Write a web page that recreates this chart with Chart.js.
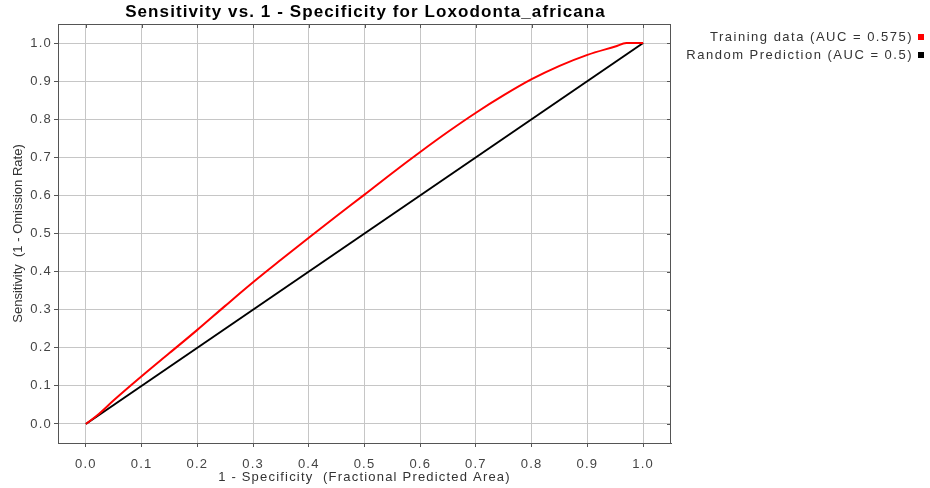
<!DOCTYPE html>
<html>
<head>
<meta charset="utf-8">
<title>Sensitivity vs. 1 - Specificity</title>
<script src="https://cdn.jsdelivr.net/npm/chart.js@4.4.1/dist/chart.umd.min.js"></script>
<style>
  body { margin: 0; background: #fff; }
  canvas { display: block; }
</style>
</head>
<body>
<canvas id="rocChart" width="930" height="488"></canvas>
<script>
// values
const fpr = [0, 0.02, 0.05, 0.1, 0.15, 0.2, 0.25, 0.3, 0.35, 0.4, 0.45, 0.5, 0.55, 0.6, 0.65, 0.7, 0.75, 0.8, 0.85, 0.9, 0.95, 0.97, 1.0];
const sensitivity = [0, 0.022, 0.062, 0.125, 0.186, 0.247, 0.31, 0.372, 0.431, 0.489, 0.546, 0.602, 0.659, 0.714, 0.767, 0.817, 0.863, 0.905, 0.94, 0.969, 0.991, 1.0, 1.0];
const randomX = [0, 1];
const randomY = [0, 1];
const tickValues = [0, 0.1, 0.2, 0.3, 0.4, 0.5, 0.6, 0.7, 0.8, 0.9, 1.0];

const chartTitle = "Sensitivity vs. 1 - Specificity for Loxodonta_africana";
const xTitle = "1 - Specificity  (Fractional Predicted Area)";
const yTitle = "Sensitivity  (1 - Omission Rate)";
const trainLabel = "Training data (AUC = 0.575)";
const randomLabel = "Random Prediction (AUC = 0.5)";

const FONT = "'Liberation Sans', Arial, sans-serif";
const SPACING = "1.2px"; // the java-drawn labels are wider than plain Arial

function toPoints(xs, ys) {
  return xs.map((x, i) => ({ x: x, y: ys[i] }));
}

// wide letter spacing for the horizontal labels that Chart.js draws
const spacingPlugin = {
  id: "spacing",
  beforeUpdate(chart) { chart.ctx.letterSpacing = SPACING; },
  beforeDraw(chart) { chart.ctx.letterSpacing = SPACING; },
};

// frame round the plot, small inner ticks on top/right, titles, legend
const framePlugin = {
  id: "frame",
  afterDraw(chart) {
    const ctx = chart.ctx;
    const a = chart.chartArea;
    const xs = chart.scales.x;
    const ys = chart.scales.y;
    ctx.save();
    ctx.strokeStyle = "#555";
    ctx.lineWidth = 1;
    ctx.strokeRect(a.left + 0.5, a.top + 0.5, a.right - a.left - 1, a.bottom - a.top);
    ctx.beginPath();
    tickValues.forEach((v) => {
      const px = Math.round(xs.getPixelForValue(v)) + 0.5;
      ctx.moveTo(px, a.top);
      ctx.lineTo(px, a.top + 4);
      const py = Math.round(ys.getPixelForValue(v)) + 0.5;
      ctx.moveTo(a.right, py);
      ctx.lineTo(a.right - 4, py);
    });
    ctx.stroke();

    // chart title
    ctx.letterSpacing = "1.1px";
    ctx.fillStyle = "#000";
    ctx.font = "bold 17px " + FONT;
    ctx.textAlign = "center";
    ctx.textBaseline = "middle";
    ctx.fillText(chartTitle, (a.left + a.right) / 2 + 1, 12);

    // y axis title, rotated
    ctx.save();
    ctx.letterSpacing = "0px";
    ctx.translate(18, (a.top + a.bottom) / 2);
    ctx.rotate(-Math.PI / 2);
    ctx.font = "13px " + FONT;
    ctx.fillStyle = "#333";
    ctx.fillText(yTitle, 0, 0);
    ctx.restore();

    // legend
    ctx.letterSpacing = "1.5px";
    ctx.font = "13px " + FONT;
    ctx.textAlign = "right";
    chart.data.datasets.forEach((ds, i) => {
      const y = 37 + i * 18;
      ctx.fillStyle = "#333";
      ctx.fillText(ds.label, 913, y);
      ctx.fillStyle = ds.borderColor;
      ctx.fillRect(918, y - 3, 6, 6);
    });
    ctx.restore();
  }
};

const ctx = document.getElementById("rocChart").getContext("2d");

const rocChart = new Chart(ctx, {
  type: "scatter",
  data: {
    datasets: [
      {
        label: trainLabel,
        data: toPoints(fpr, sensitivity),
        showLine: true,
        borderColor: "#ff0000",
        borderWidth: 2,
        pointRadius: 0,
        cubicInterpolationMode: "monotone",
      },
      {
        label: randomLabel,
        data: toPoints(randomX, randomY),
        showLine: true,
        borderColor: "#000000",
        borderWidth: 2,
        pointRadius: 0,
      },
    ],
  },
  options: {
    responsive: false,
    animation: false,
    devicePixelRatio: 1,
    layout: { padding: { left: 0, right: 259, top: 24, bottom: 0 } },
    plugins: {
      legend: { display: false },
      tooltip: { enabled: false },
      title: { display: false },
    },
    scales: {
      x: {
        type: "linear",
        min: -0.05,
        max: 1.05,
        afterBuildTicks: (axis) => {
          axis.ticks = tickValues.map((v) => ({ value: v }));
        },
        afterFit: (scale) => { scale.height = 45; },
        ticks: {
          color: "#444",
          padding: 10,
          font: { family: FONT, size: 13 },
          callback: (v) => Number(v).toFixed(1),
        },
        grid: { color: "#c6c6c6", tickColor: "#555", tickLength: 4 },
        border: { color: "#555" },
        title: {
          display: true,
          text: xTitle,
          color: "#333",
          font: { family: FONT, size: 13 },
          padding: { top: 0, bottom: 3 },
        },
      },
      y: {
        type: "linear",
        min: -0.05,
        max: 1.05,
        afterBuildTicks: (axis) => {
          axis.ticks = tickValues.map((v) => ({ value: v }));
        },
        afterFit: (scale) => { scale.width = 58; },
        ticks: {
          color: "#444",
          padding: 2,
          font: { family: FONT, size: 13 },
          callback: (v) => Number(v).toFixed(1),
        },
        grid: { color: "#c6c6c6", tickColor: "#555", tickLength: 4 },
        border: { color: "#555" },
        title: { display: false },
      },
    },
  },
  plugins: [spacingPlugin, framePlugin],
});
</script>
</body>
</html>
